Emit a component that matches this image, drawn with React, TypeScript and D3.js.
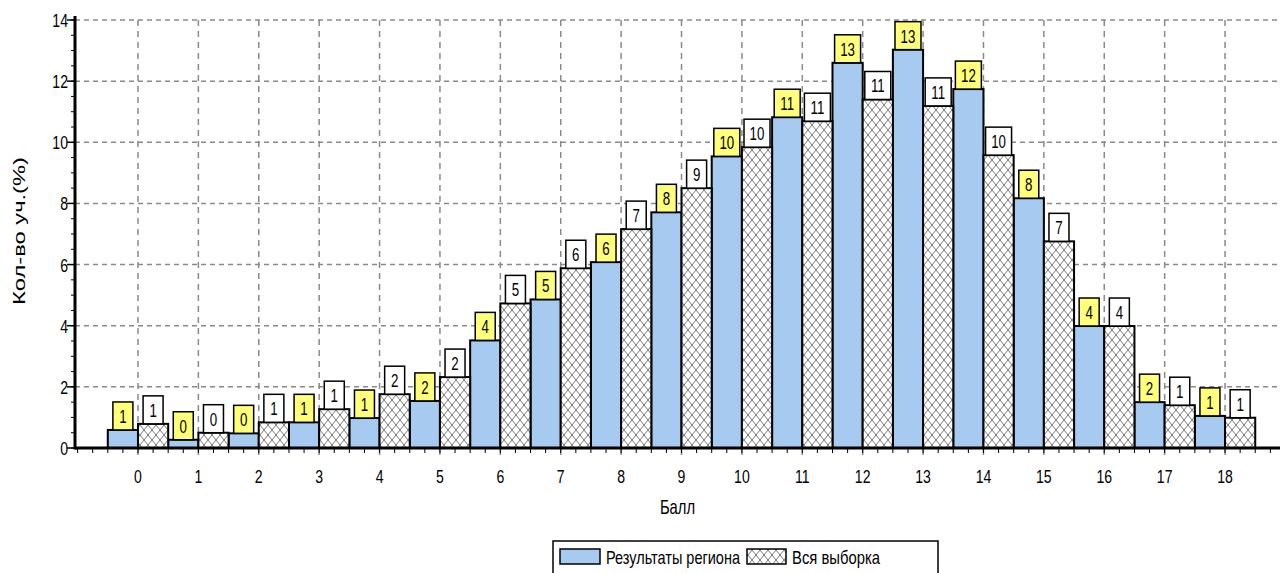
import { useEffect } from "react";
import * as d3 from "d3";

const categories = [0, 1, 2, 3, 4, 5, 6, 7, 8, 9, 10, 11, 12, 13, 14, 15, 16, 17, 18];
const regionValues = [0.59, 0.27, 0.48, 0.84, 0.98, 1.54, 3.52, 4.86, 6.08, 7.71, 9.54, 10.82, 12.6, 13.03, 11.74, 8.17, 3.99, 1.5, 1.05];
const allValues = [0.79, 0.5, 0.84, 1.27, 1.76, 2.32, 4.73, 5.88, 7.16, 8.5, 9.84, 10.69, 11.4, 11.19, 9.58, 6.76, 3.99, 1.4, 0.99];
const regionLabels = ["1", "0", "0", "1", "1", "2", "4", "5", "6", "8", "10", "11", "13", "13", "12", "8", "4", "2", "1"];
const allLabels = ["1", "0", "1", "1", "2", "2", "5", "6", "7", "9", "10", "11", "11", "11", "10", "7", "4", "1", "1"];
const yTicks = [0, 2, 4, 6, 8, 10, 12, 14];
const seriesNames = ["Результаты региона", "Вся выборка"];

const W = 1280;
const H = 573;
const FONT = "'Liberation Sans', Arial, sans-serif";
const BLUE = "#a6caf0";
const YELLOW = "#ffff7a";
const GRID = "#8a8a8a";
const SX = 0.74; // horizontal squeeze, the source text is narrow

function Txt({ x, y, size, anchor = "start", children }: { x: number; y: number; size: number; anchor?: string; children: any }) {
  return (
    <text
      transform={`translate(${x},${y}) scale(${SX},1)`}
      textAnchor={anchor as any}
      fontSize={size}
      fontFamily={FONT}
      fill="#000"
    >
      {children}
    </text>
  );
}

export default function App() {
  useEffect(() => {
    document.body.style.margin = "0";
  }, []);

  const x = d3.scaleLinear().domain([-1.043, 18.91]).range([75, W]);
  const y = d3.scaleLinear().domain([0, 14]).range([448, 20]);
  const half = 0.5;
  const x0 = x.range()[0];

  const xMinor = d3.range(-1, 18.91, 0.25);
  const yMinor = d3.range(0, 14.01, 0.5);

  const bar = (k: number, v: number, off: number, fill: string, key: string) => (
    <rect
      key={key}
      x={x(k + off)}
      y={y(v)}
      width={x(k + off + half) - x(k + off)}
      height={y(0) - y(v)}
      fill={fill}
      stroke="#000"
      strokeWidth={2}
    />
  );

  const label = (k: number, v: number, off: number, text: string, fill: string, key: string) => {
    const cx = (x(k + off) + x(k + off + half)) / 2;
    const w = text.length > 1 ? 26 : 20;
    const top = y(v) - 28;
    return (
      <g key={key}>
        <rect x={cx - w / 2} y={top} width={w} height={28} fill={fill} stroke="#000" strokeWidth={1.5} />
        <Txt x={cx} y={top + 21} size={18} anchor="middle">
          {text}
        </Txt>
      </g>
    );
  };

  return (
    <svg width={W} height={H} style={{ display: "block", background: "#fff" }}>
      <defs>
        <pattern id="hatch" width={8} height={10} patternUnits="userSpaceOnUse">
          <rect width={8} height={10} fill="#fff" />
          <path d="M0,0 L8,10 M8,0 L0,10" stroke="#7a7a7a" strokeWidth={1} fill="none" />
        </pattern>
      </defs>

      {/* grid */}
      {yTicks.filter((t) => t > 0).map((t) => (
        <line key={"gy" + t} x1={x0} x2={W} y1={y(t)} y2={y(t)} stroke={GRID} strokeWidth={1.5} strokeDasharray="5,4" />
      ))}
      {categories.map((c) => (
        <line key={"gx" + c} x1={x(c)} x2={x(c)} y1={y(14)} y2={y(0) + 10} stroke={GRID} strokeWidth={1.5} strokeDasharray="6,5" />
      ))}

      {/* bars */}
      {categories.map((c, i) => bar(c, regionValues[i], -half, BLUE, "r" + c))}
      {categories.map((c, i) => bar(c, allValues[i], 0, "url(#hatch)", "a" + c))}

      {/* axes */}
      {xMinor.map((t) => (
        <line key={"xm" + t} x1={x(t)} x2={x(t)} y1={y(0)} y2={y(0) + 5} stroke="#000" strokeWidth={1} />
      ))}
      {yMinor.map((t) => (
        <line key={"ym" + t} x1={x0 - 4} x2={x0} y1={y(t)} y2={y(t)} stroke="#000" strokeWidth={1} />
      ))}
      {yTicks.map((t) => (
        <line key={"yt" + t} x1={x0 - 8} x2={x0} y1={y(t)} y2={y(t)} stroke="#000" strokeWidth={1.5} />
      ))}
      <line x1={x0} x2={W} y1={y(0)} y2={y(0)} stroke="#000" strokeWidth={3} />
      <line x1={x0} x2={x0} y1={y(14) - 4} y2={y(0) + 1.5} stroke="#000" strokeWidth={3} />

      {yTicks.map((t) => (
        <Txt key={"yl" + t} x={x0 - 7} y={y(t) + 7} size={19} anchor="end">
          {t}
        </Txt>
      ))}
      {categories.map((c) => (
        <Txt key={"xl" + c} x={x(c)} y={483} size={19} anchor="middle">
          {c}
        </Txt>
      ))}

      <Txt x={(x0 + W) / 2} y={514} size={20} anchor="middle">
        Балл
      </Txt>
      <text
        transform={`translate(25,231) rotate(-90)`}
        textAnchor="middle"
        fontSize={16}
        fontFamily={FONT}
        textLength={148}
        lengthAdjust="spacingAndGlyphs"
        fill="#000"
      >
        Кол-во уч.(%)
      </text>

      {/* value labels */}
      {categories.map((c, i) => label(c, regionValues[i], -half, regionLabels[i], YELLOW, "lr" + c))}
      {categories.map((c, i) => label(c, allValues[i], 0, allLabels[i], "#fff", "la" + c))}

      {/* legend */}
      <rect x={553} y={541} width={385} height={60} fill="#fff" stroke="#000" strokeWidth={1.5} />
      <rect x={560} y={549} width={40} height={15} fill={BLUE} stroke="#000" strokeWidth={1.5} />
      <text x={606} y={564} fontSize={19} fontFamily={FONT} textLength={134} lengthAdjust="spacingAndGlyphs" fill="#000">
        {seriesNames[0]}
      </text>
      <rect x={747} y={549} width={39} height={15} fill="url(#hatch)" stroke="#000" strokeWidth={1.5} />
      <text x={792} y={564} fontSize={19} fontFamily={FONT} textLength={88} lengthAdjust="spacingAndGlyphs" fill="#000">
        {seriesNames[1]}
      </text>
    </svg>
  );
}
